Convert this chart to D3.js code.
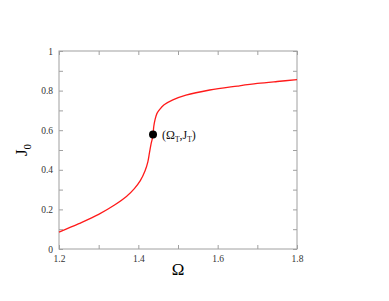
<!DOCTYPE html>
<html>
<head>
<meta charset="utf-8">
<script src="https://cdn.jsdelivr.net/npm/d3@7"></script>
<style>
  body { margin: 0; background: #fff; }
  text { font-family: "Liberation Serif", "DejaVu Serif", serif; }
</style>
</head>
<body>
<svg id="chart" width="389" height="301"></svg>
<script>
// curve J0 vs Omega
var omega = [1.2, 1.25, 1.3, 1.34, 1.37, 1.39, 1.405, 1.417, 1.424, 1.428, 1.432, 1.435, 1.437, 1.439, 1.442, 1.447, 1.454, 1.465, 1.487, 1.52, 1.58, 1.65, 1.7, 1.75, 1.8];
var j0 = [0.085, 0.128, 0.175, 0.222, 0.265, 0.305, 0.345, 0.395, 0.44, 0.485, 0.53, 0.555, 0.578, 0.62, 0.652, 0.685, 0.705, 0.728, 0.753, 0.777, 0.803, 0.823, 0.836, 0.846, 0.855];
var turnOmega = 1.437, turnJ = 0.578;
var xTicks = [1.2, 1.4, 1.6, 1.8];
var yTicks = [0, 0.2, 0.4, 0.6, 0.8, 1];

var svg = d3.select("#chart");
var plotLeft = 59, plotRight = 297, plotTop = 51, plotBottom = 249;

var x = d3.scaleLinear().domain([1.2, 1.8]).range([plotLeft, plotRight]);
var y = d3.scaleLinear().domain([0, 1]).range([plotBottom, plotTop]);

var axisColor = "#a0a0a0";

// minor + major ticks on all four sides, pointing inward
var minorX = d3.range(1.2, 1.8001, 0.1), minorY = d3.range(0, 1.0001, 0.1);

function styleAxis(g) {
	g.select(".domain").remove();
	g.selectAll(".tick line").attr("stroke", axisColor);
	g.selectAll(".tick text").attr("fill", "#333").style("font-size", "9.5px");
}

svg.append("g").attr("transform", "translate(0," + plotBottom + ")")
	.call(d3.axisBottom(x).tickValues(minorX).tickSizeInner(-4).tickSizeOuter(0).tickFormat(""))
	.call(styleAxis);
svg.append("g").attr("transform", "translate(0," + plotBottom + ")")
	.call(d3.axisBottom(x).tickValues(xTicks).tickSize(0).tickPadding(6).tickFormat(d3.format(".1f")))
	.call(styleAxis);
svg.append("g").attr("transform", "translate(0," + plotTop + ")")
	.call(d3.axisTop(x).tickValues(minorX).tickSizeInner(-4).tickSizeOuter(0).tickFormat(""))
	.call(styleAxis);

svg.append("g").attr("transform", "translate(" + plotLeft + ",0)")
	.call(d3.axisLeft(y).tickValues(minorY).tickSizeInner(-4).tickSizeOuter(0).tickFormat(""))
	.call(styleAxis);
svg.append("g").attr("transform", "translate(" + plotLeft + ",0)")
	.call(d3.axisLeft(y).tickValues(yTicks).tickSize(0).tickPadding(6).tickFormat(function (d) { return d === 0 || d === 1 ? d : d3.format(".1f")(d); }))
	.call(styleAxis);
svg.append("g").attr("transform", "translate(" + plotRight + ",0)")
	.call(d3.axisRight(y).tickValues(minorY).tickSizeInner(-4).tickSizeOuter(0).tickFormat(""))
	.call(styleAxis);

// frame
svg.append("rect")
	.attr("x", plotLeft).attr("y", plotTop)
	.attr("width", plotRight - plotLeft).attr("height", plotBottom - plotTop)
	.attr("fill", "none").attr("stroke", axisColor).attr("stroke-width", 1);

// the curve
var pts = omega.map(function (d, i) { return [d, j0[i]]; });
var line = d3.line()
	.x(function (d) { return x(d[0]); })
	.y(function (d) { return y(d[1]); })
	.curve(d3.curveCatmullRom.alpha(0.5));

svg.append("path")
	.datum(pts)
	.attr("d", line)
	.attr("fill", "none")
	.attr("stroke", "#ff1a1a")
	.attr("stroke-width", 1.3);

// turning point
svg.append("circle")
	.attr("cx", x(turnOmega)).attr("cy", y(turnJ))
	.attr("r", 4).attr("fill", "#000");

var lab = svg.append("text")
	.attr("x", x(turnOmega) + 9).attr("y", y(turnJ) + 4)
	.style("font-size", "12px").attr("fill", "#111");
lab.append("tspan").text("(Ω");
lab.append("tspan").attr("dy", 3).style("font-size", "7.5px").text("T");
lab.append("tspan").attr("dy", -3).text(",J");
lab.append("tspan").attr("dy", 3).style("font-size", "7.5px").text("T");
lab.append("tspan").attr("dy", -3).text(")");

// axis titles
svg.append("text")
	.attr("x", x(1.5)).attr("y", 275)
	.attr("text-anchor", "middle")
	.style("font-size", "17px").attr("fill", "#000")
	.text("Ω");

var yl = svg.append("text")
	.attr("transform", "translate(27," + y(0.5) + ") rotate(-90)")
	.attr("text-anchor", "middle")
	.style("font-size", "17px").attr("fill", "#000");
yl.append("tspan").text("J");
yl.append("tspan").attr("dy", 4).style("font-size", "11px").text("0");
</script>
</body>
</html>
